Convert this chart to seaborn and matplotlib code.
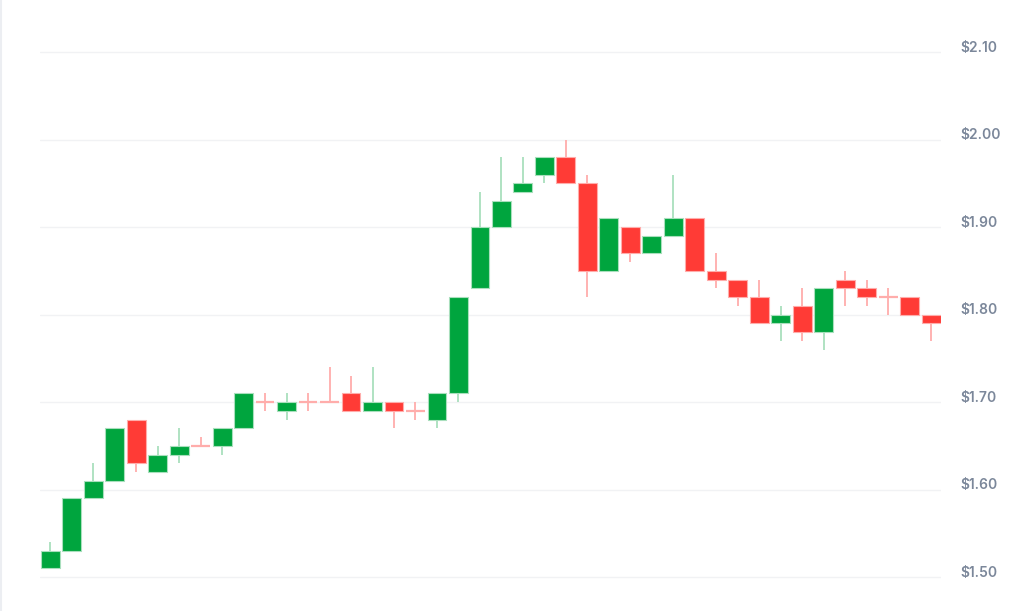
import matplotlib
matplotlib.use("Agg")
import matplotlib.pyplot as plt
from matplotlib.lines import Line2D
from matplotlib.ticker import FuncFormatter
from matplotlib.transforms import ScaledTranslation
import numpy as np
import pandas as pd
import seaborn as sns

# OHLC values, one per candle
opens = [1.51, 1.53, 1.59, 1.61, 1.68, 1.62, 1.64, 1.65, 1.65, 1.67,
         1.70, 1.69, 1.70, 1.70, 1.71, 1.69, 1.70, 1.69, 1.68, 1.71,
         1.83, 1.90, 1.94, 1.96, 1.98, 1.95, 1.85, 1.90, 1.87, 1.89,
         1.91, 1.85, 1.84, 1.82, 1.79, 1.81, 1.78, 1.84, 1.83, 1.82,
         1.82, 1.80]
highs = [1.54, 1.59, 1.63, 1.67, 1.68, 1.65, 1.67, 1.66, 1.67, 1.71,
         1.71, 1.71, 1.71, 1.74, 1.73, 1.74, 1.70, 1.70, 1.71, 1.82,
         1.94, 1.98, 1.98, 1.98, 2.00, 1.96, 1.91, 1.90, 1.89, 1.96,
         1.91, 1.87, 1.84, 1.84, 1.81, 1.83, 1.83, 1.85, 1.84, 1.83,
         1.82, 1.80]
lows = [1.51, 1.53, 1.59, 1.61, 1.62, 1.62, 1.63, 1.65, 1.64, 1.67,
        1.69, 1.68, 1.69, 1.70, 1.69, 1.69, 1.67, 1.68, 1.67, 1.70,
        1.83, 1.90, 1.94, 1.95, 1.95, 1.82, 1.85, 1.86, 1.87, 1.89,
        1.85, 1.83, 1.81, 1.79, 1.77, 1.77, 1.76, 1.81, 1.81, 1.80,
        1.80, 1.77]
closes = [1.53, 1.59, 1.61, 1.67, 1.63, 1.64, 1.65, 1.65, 1.67, 1.71,
          1.70, 1.70, 1.70, 1.70, 1.69, 1.70, 1.69, 1.69, 1.71, 1.82,
          1.90, 1.93, 1.95, 1.98, 1.95, 1.85, 1.91, 1.87, 1.89, 1.91,
          1.85, 1.84, 1.82, 1.79, 1.80, 1.78, 1.83, 1.83, 1.82, 1.82,
          1.80, 1.79]
price_ticks = [1.50, 1.60, 1.70, 1.80, 1.90, 2.00, 2.10]

GREEN = "#00a53e"
RED = "#ff3b36"
GREEN_LIGHT = "#a9dfbd"
RED_LIGHT = "#ffadab"

df = pd.DataFrame({"open": opens, "high": highs, "low": lows, "close": closes})
df["x"] = np.arange(len(df))
df["up"] = df["close"] > df["open"]
df["flat"] = np.isclose(df["close"], df["open"])

sns.set_theme(style="white")
plt.rcParams["font.family"] = ["Inter", "DejaVu Sans"]

fig = plt.figure(figsize=(10.24, 6.11), dpi=100)
ax = fig.add_axes([40 / 1024, 21 / 611, 901 / 1024, 550 / 611])

# wicks
wick_colors = [GREEN_LIGHT if u else RED_LIGHT for u in df["up"]]
ax.vlines(df["x"], df["low"], df["high"], colors=wick_colors, linewidth=1.3, zorder=2)

# bodies
w = 0.88
body = df[~df["flat"]]
ax.bar(body["x"], (body["close"] - body["open"]).abs(),
       bottom=np.minimum(body["open"], body["close"]), width=w,
       color=[GREEN if u else RED for u in body["up"]],
       edgecolor=[GREEN_LIGHT if u else RED_LIGHT for u in body["up"]],
       linewidth=0.8, zorder=3)

# doji candles drawn as a flat bar
flat = df[df["flat"]]
ax.hlines(flat["close"], flat["x"] - w / 2, flat["x"] + w / 2,
          colors=RED_LIGHT, linewidth=1.6, zorder=3)

px = 875.0
ax.set_xlim(-0.47, len(df) - 0.55)
ax.set_ylim(1.50 - 13 / px, 2.10 + 12 / px)
ax.set_yticks(price_ticks)
ax.yaxis.set_major_formatter(FuncFormatter(lambda v, p: f"${v:.2f}"))
ax.yaxis.tick_right()
ax.tick_params(axis="y", length=0, pad=14, labelsize=10, labelcolor="#7b879a")
ax.set_xticks([])
ax.grid(axis="y", color="#f1f2f4", linewidth=1)
ax.set_axisbelow(True)
sns.despine(ax=ax, left=True, bottom=True, right=True, top=True)

# labels sit a little above their grid line
shift = ScaledTranslation(0, 6 / 100, fig.dpi_scale_trans)
for t in ax.yaxis.get_major_ticks():
    t.label2.set_transform(t.label2.get_transform() + shift)
    t.label2.set_fontweight("semibold")

fig.add_artist(Line2D([0.001, 0.001], [0, 1], color="#eceef2", linewidth=1.5))

fig.savefig("out.png", dpi=100)
